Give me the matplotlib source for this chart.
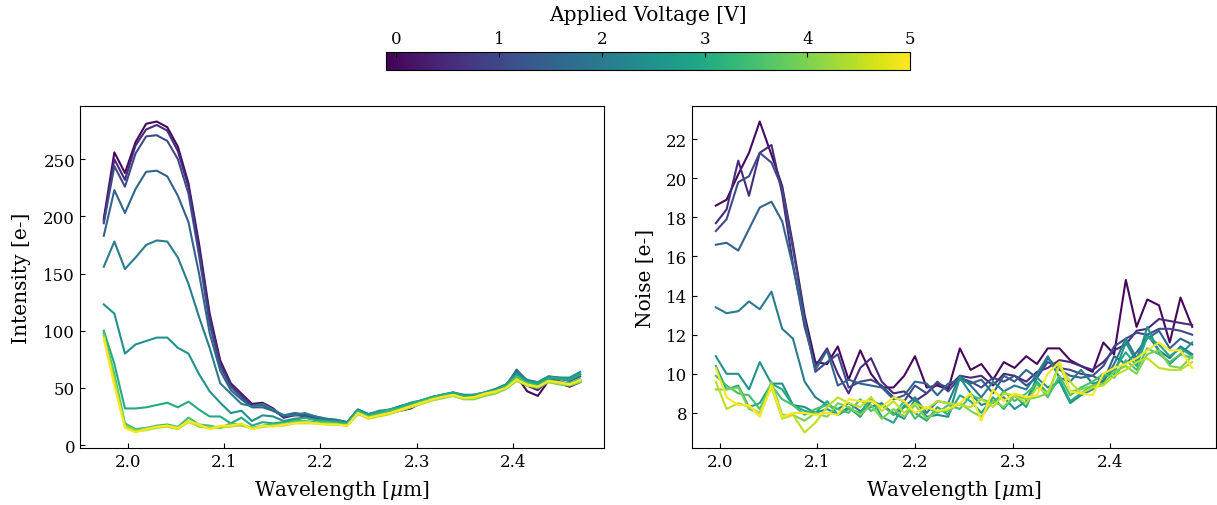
import numpy as np
import matplotlib
matplotlib.use("Agg")
import matplotlib.pyplot as plt
from matplotlib import cm
from matplotlib.colors import Normalize

plt.rcParams["font.family"] = "serif"
plt.rcParams["font.serif"] = ["DejaVu Serif"]
plt.rcParams["mathtext.fontset"] = "dejavuserif"

# applied voltages (one curve each)
voltages = [0.0, 0.5, 1.0, 1.5, 2.0, 2.5, 3.0, 3.5, 4.0, 4.5, 5.0]

# wavelength grid of the intensity panel [um]
wl_int = [1.975, 1.986, 1.997, 2.008, 2.019, 2.030, 2.041, 2.052, 2.063, 2.074,
          2.085, 2.096, 2.107, 2.118, 2.129, 2.140, 2.151, 2.162, 2.173, 2.184,
          2.195, 2.206, 2.217, 2.228, 2.239, 2.250, 2.261, 2.272, 2.283, 2.294,
          2.305, 2.316, 2.327, 2.338, 2.349, 2.360, 2.371, 2.382, 2.393, 2.404,
          2.415, 2.426, 2.437, 2.448, 2.459, 2.470]

# wavelength grid of the noise panel [um]
wl_noise = [1.996, 2.007, 2.019, 2.030, 2.041, 2.053, 2.064, 2.075, 2.087, 2.098,
            2.110, 2.121, 2.132, 2.144, 2.155, 2.166, 2.178, 2.189, 2.200, 2.212,
            2.223, 2.234, 2.246, 2.257, 2.268, 2.280, 2.291, 2.302, 2.314, 2.325,
            2.336, 2.348, 2.359, 2.370, 2.382, 2.393, 2.404, 2.416, 2.427, 2.438,
            2.450, 2.461, 2.472, 2.484]

# intensity [e-] per voltage
int_0v0 = [198, 256, 238, 265, 281, 283, 278, 261, 229, 176, 115, 74, 54, 45, 36, 37, 32,
           24, 26, 26, 23, 22, 20, 19, 29, 25, 26, 28, 30, 32, 37, 40, 42, 44, 41, 42,
           44, 47, 51, 60, 47, 43, 56, 54, 51, 55]
int_0v5 = [196, 250, 232, 262, 276, 280, 275, 257, 226, 172, 112, 72, 53, 44, 35, 36, 31,
           24, 27, 25, 23, 21, 21, 19, 29, 25, 27, 28, 31, 34, 37, 40, 42, 44, 42, 42,
           45, 47, 51, 62, 52, 48, 57, 55, 52, 56]
int_1v0 = [194, 244, 226, 255, 270, 271, 266, 250, 220, 166, 106, 69, 51, 42, 34, 35, 30,
           25, 27, 26, 23, 22, 21, 19, 30, 26, 27, 29, 31, 34, 37, 40, 43, 44, 42, 43,
           45, 48, 52, 64, 54, 50, 58, 56, 53, 57]
int_1v5 = [183, 223, 203, 224, 239, 240, 235, 218, 195, 150, 98, 65, 48, 40, 33, 33, 30,
           26, 28, 27, 25, 23, 22, 20, 31, 27, 29, 30, 33, 35, 38, 41, 44, 45, 43, 43,
           46, 48, 52, 66, 56, 53, 59, 58, 56, 60]
int_2v0 = [156, 178, 154, 164, 175, 179, 178, 164, 141, 112, 85, 54, 45, 36, 34, 36, 31,
           26, 26, 28, 25, 23, 22, 20, 31, 27, 29, 31, 34, 36, 39, 42, 44, 46, 44, 44,
           46, 49, 53, 64, 57, 55, 60, 59, 58, 62]
int_2v5 = [123, 115, 80, 88, 91, 94, 94, 85, 80, 62, 47, 37, 28, 30, 21, 26, 25,
           21, 23, 24, 22, 21, 21, 20, 31, 27, 30, 31, 34, 37, 39, 42, 44, 46, 43, 44,
           46, 49, 53, 63, 56, 55, 60, 59, 59, 64]
int_3v0 = [100, 71, 32, 32, 33, 35, 37, 33, 38, 31, 25, 25, 19, 24, 17, 20, 19,
           20, 22, 24, 22, 21, 20, 19, 30, 26, 29, 31, 33, 37, 39, 42, 44, 46, 43, 44,
           46, 48, 52, 61, 55, 54, 59, 58, 57, 62]
int_3v5 = [98, 62, 19, 14, 15, 17, 18, 16, 24, 18, 17, 15, 19, 18, 15, 17, 18,
           18, 21, 21, 20, 20, 19, 18, 29, 25, 27, 30, 32, 35, 38, 41, 43, 44, 42, 42,
           45, 47, 51, 60, 54, 52, 57, 55, 54, 58]
int_4v0 = [96, 58, 17, 13, 14, 16, 17, 15, 21, 16, 16, 15, 17, 17, 15, 16, 17,
           18, 20, 20, 19, 19, 18, 17, 27, 24, 26, 28, 30, 33, 36, 39, 41, 43, 40, 40,
           43, 45, 49, 56, 52, 50, 55, 53, 52, 55]
int_4v5 = [95, 55, 16, 12, 13, 15, 16, 14, 20, 17, 14, 16, 16, 18, 14, 16, 17,
           17, 19, 19, 19, 18, 18, 17, 28, 23, 25, 27, 30, 33, 36, 39, 42, 43, 41, 41,
           44, 46, 50, 58, 52, 51, 56, 54, 53, 56]
int_5v0 = [93, 52, 15, 11, 14, 16, 17, 15, 21, 18, 14, 17, 17, 19, 14, 17, 16,
           18, 19, 20, 19, 18, 18, 17, 28, 24, 26, 28, 31, 34, 37, 40, 42, 44, 41, 42,
           45, 47, 50, 57, 53, 51, 56, 55, 53, 57]

# noise [e-] per voltage
noise_0v0 = [18.6, 18.9, 20.2, 21.3, 22.9, 21.2, 19.6, 16.6, 13.0,
             10.6, 10.5, 11.4, 9.7, 11.2, 10.0, 9.3, 9.3, 9.9, 10.9, 9.3, 9.4,
             9.2, 11.3, 10.2, 10.5, 9.7, 10.6, 10.3, 10.9, 10.5, 11.3, 11.3, 10.7,
             10.4, 10.1, 11.6, 11.0, 14.8, 12.4, 13.8, 13.5, 11.6, 13.9, 12.4]
noise_0v5 = [17.7, 18.4, 20.9, 19.1, 21.3, 21.7, 19.2, 15.6, 12.4,
             10.4, 11.3, 10.0, 9.0, 10.3, 10.8, 9.6, 9.0, 9.1, 8.6, 9.0, 9.5,
             9.3, 9.9, 9.8, 9.9, 9.4, 10.0, 9.9, 9.6, 10.1, 10.3, 10.7, 10.6,
             10.4, 10.2, 10.6, 11.2, 11.5, 12.2, 12.3, 12.8, 12.7, 12.6, 12.5]
noise_1v0 = [17.3, 17.9, 19.8, 20.1, 21.3, 20.8, 19.5, 16.4, 12.8,
             10.1, 10.6, 11.0, 9.3, 9.6, 9.7, 9.4, 8.8, 8.6, 9.4, 9.0, 9.6,
             9.1, 9.8, 9.6, 9.3, 9.8, 9.6, 9.9, 9.4, 9.8, 10.6, 10.3, 10.2,
             10.0, 9.9, 10.4, 11.4, 11.8, 12.1, 12.0, 12.3, 12.3, 12.2, 12.0]
noise_1v5 = [16.6, 16.7, 16.3, 17.4, 18.5, 18.8, 17.8, 15.5, 12.6,
             10.2, 11.2, 9.4, 9.7, 9.5, 9.4, 9.3, 8.7, 8.9, 9.6, 9.5, 8.9,
             9.5, 9.7, 9.5, 9.7, 9.0, 9.9, 9.6, 10.2, 9.8, 10.8, 10.2, 9.9,
             9.8, 9.9, 9.6, 10.9, 10.5, 11.1, 11.8, 12.2, 11.3, 11.8, 11.5]
noise_2v0 = [13.4, 13.1, 13.2, 13.7, 13.3, 14.2, 12.3, 11.8, 9.6,
             8.8, 8.4, 8.2, 8.5, 8.1, 8.3, 8.5, 7.9, 8.3, 8.8, 8.0, 8.6,
             8.5, 9.9, 9.4, 8.8, 9.6, 9.1, 9.4, 9.2, 10.0, 10.9, 9.8, 9.6,
             10.2, 9.5, 9.6, 10.5, 11.8, 10.8, 12.0, 11.2, 10.8, 11.4, 11.0]
noise_2v5 = [10.9, 10.0, 10.0, 9.2, 10.6, 9.5, 9.5, 8.4, 8.3,
             8.0, 8.2, 7.9, 8.3, 7.8, 8.6, 8.4, 8.0, 7.7, 8.7, 7.8, 7.9,
             7.8, 9.8, 9.0, 8.4, 8.6, 8.8, 8.2, 8.6, 9.8, 9.3, 9.6, 8.5,
             8.9, 9.2, 9.9, 10.0, 11.6, 10.6, 12.4, 11.1, 10.5, 11.0, 11.6]
noise_3v0 = [10.4, 9.2, 9.4, 8.3, 8.5, 9.5, 9.2, 8.4, 8.1,
             8.0, 8.6, 7.9, 8.2, 8.0, 8.8, 7.8, 7.5, 8.4, 8.0, 7.6, 8.3,
             7.9, 8.9, 8.6, 8.0, 8.8, 8.2, 8.9, 8.3, 9.6, 9.0, 9.7, 8.6,
             9.0, 9.4, 9.8, 10.2, 11.1, 10.4, 11.9, 11.5, 10.9, 11.3, 10.9]
noise_3v5 = [9.9, 9.4, 9.0, 8.9, 8.2, 9.4, 8.7, 8.4, 7.9,
             8.2, 8.4, 8.2, 8.0, 8.7, 8.1, 8.4, 7.9, 8.6, 7.7, 8.3, 8.0,
             8.4, 8.2, 8.9, 8.7, 8.5, 9.1, 8.6, 9.0, 9.5, 8.8, 9.9, 8.9,
             9.3, 9.6, 10.0, 9.8, 10.7, 10.2, 11.3, 11.0, 10.6, 11.0, 10.8]
noise_4v0 = [9.2, 9.2, 9.3, 8.2, 8.0, 9.6, 7.9, 7.9, 7.6,
             8.0, 7.8, 8.5, 8.3, 7.9, 8.4, 7.7, 8.2, 7.8, 8.4, 7.7, 8.1,
             8.1, 8.5, 8.1, 7.8, 8.6, 8.3, 8.9, 8.7, 8.8, 9.0, 10.5, 9.1,
             9.2, 9.4, 9.5, 10.1, 10.4, 10.0, 11.0, 11.2, 10.4, 10.3, 10.9]
noise_4v5 = [9.6, 8.2, 8.5, 8.3, 8.0, 9.3, 7.7, 7.9, 7.0,
             7.5, 8.3, 8.8, 8.5, 8.3, 8.8, 8.1, 8.6, 8.0, 8.5, 8.2, 8.6,
             8.5, 8.4, 8.3, 8.7, 8.3, 9.0, 8.9, 8.5, 9.3, 9.0, 10.4, 9.6,
             9.0, 9.3, 9.4, 9.9, 10.2, 10.6, 10.8, 10.3, 10.2, 10.2, 10.6]
noise_5v0 = [10.3, 8.8, 8.4, 8.4, 7.8, 9.4, 7.8, 8.0, 8.0,
             7.9, 8.0, 7.9, 8.7, 8.6, 8.6, 8.3, 8.8, 8.6, 8.0, 8.3, 8.1,
             8.2, 8.5, 9.0, 7.6, 9.2, 8.6, 9.0, 8.8, 8.9, 10.0, 10.6, 9.1,
             9.0, 8.9, 10.0, 10.3, 10.5, 10.8, 11.2, 11.6, 11.2, 11.2, 10.3]

intensity = [int_0v0, int_0v5, int_1v0, int_1v5, int_2v0, int_2v5,
             int_3v0, int_3v5, int_4v0, int_4v5, int_5v0]
noise = [noise_0v0, noise_0v5, noise_1v0, noise_1v5, noise_2v0, noise_2v5,
         noise_3v0, noise_3v5, noise_4v0, noise_4v5, noise_5v0]

cmap = plt.get_cmap("viridis")
norm = Normalize(vmin=-0.1, vmax=5)

fig = plt.figure(figsize=(12.17, 5.06), dpi=100)
ax1 = fig.add_axes([0.0657, 0.1126, 0.4306, 0.676])
ax2 = fig.add_axes([0.5686, 0.1126, 0.4306, 0.676])
cax = fig.add_axes([0.3172, 0.8597, 0.4306, 0.0356])

for v, y in zip(voltages, intensity):
    ax1.plot(wl_int, y, color=cmap(norm(v)), lw=1.5)
for v, y in zip(voltages, noise):
    ax2.plot(wl_noise, y, color=cmap(norm(v)), lw=1.5)

ax1.set_ylabel("Intensity [e-]", fontsize=14.5, labelpad=9)
ax2.set_ylabel("Noise [e-]", fontsize=14.5, labelpad=8)
for ax in (ax1, ax2):
    ax.set_xlabel(r"Wavelength [$\mu$m]", fontsize=14.5, labelpad=6)
    ax.set_xticks([2.0, 2.1, 2.2, 2.3, 2.4])
    ax.tick_params(direction="in", labelsize=12)
ax1.set_yticks([0, 50, 100, 150, 200, 250])
ax2.set_yticks([8, 10, 12, 14, 16, 18, 20, 22])

sm = cm.ScalarMappable(norm=norm, cmap=cmap)
cb = fig.colorbar(sm, cax=cax, orientation="horizontal")
cb.set_ticks([0, 1, 2, 3, 4, 5])
cax.xaxis.set_ticks_position("top")
cax.xaxis.set_label_position("top")
cax.tick_params(direction="in", labelsize=12)
cb.set_label("Applied Voltage [V]", fontsize=14.5, labelpad=7)

fig.savefig("out.png", dpi=100)
